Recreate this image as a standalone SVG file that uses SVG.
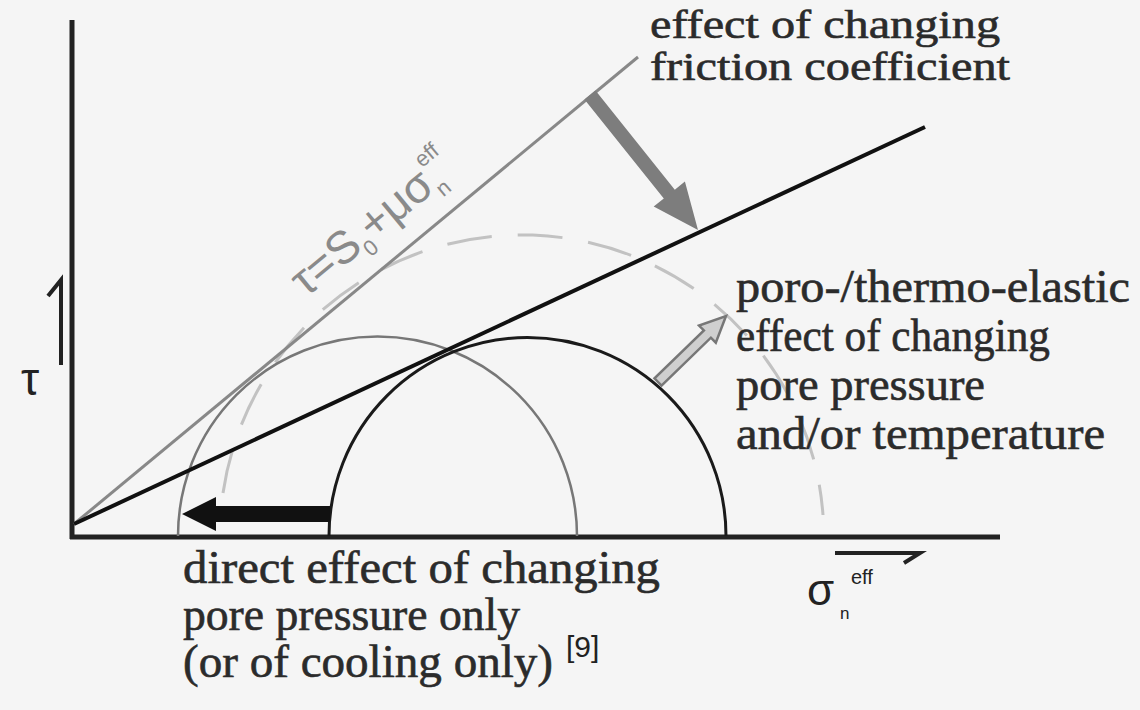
<svg xmlns="http://www.w3.org/2000/svg" width="1140" height="710" viewBox="0 0 1140 710">
<style>
.lbl{font-family:"Liberation Serif","Times New Roman",serif;font-size:46px;fill:#2b2b2b;stroke:#2b2b2b;stroke-width:0.6;}
.top{font-size:40px;}
.sans{font-family:"Liberation Sans",Arial,sans-serif;}
.axis{stroke:#222;stroke-width:5;fill:none;}
</style>
<rect x="0" y="0" width="1140" height="710" fill="#f5f5f5"/>
<g id="axes">
<line class="axis" x1="72" y1="20" x2="72" y2="539"/>
<line class="axis" x1="70" y1="537" x2="1000" y2="537"/>
<path d="M61 365 L61 280 L48 296" fill="none" stroke="#222" stroke-width="4"/>
<text class="sans" x="21" y="395" font-size="46" fill="#222">τ</text>
<path d="M835 553 L920 553 L904 563" fill="none" stroke="#222" stroke-width="4"/>
<text class="sans" x="807" y="605" font-size="44" fill="#222">σ</text>
<text class="sans" x="840" y="619" font-size="17" fill="#222">n</text>
<text class="sans" x="851" y="584" font-size="20" fill="#222">eff</text>
</g>
<g id="circles">
<path d="M223 493 A302 302 0 0 1 823 515" fill="none" stroke="#c2c2c2" stroke-width="3" stroke-dasharray="45 26"/>
<path d="M178 536 A199.5 199.5 0 0 1 577 536" fill="none" stroke="#777" stroke-width="2.5"/>
<path d="M329 536 A198.5 198.5 0 0 1 726 536" fill="none" stroke="#1a1a1a" stroke-width="3"/>
</g>
<g id="lines">
<line x1="74" y1="524" x2="638" y2="57" stroke="#888" stroke-width="3"/>
<line x1="74" y1="524" x2="925" y2="127" stroke="#111" stroke-width="4"/>
<text class="sans" transform="translate(306,298) rotate(-39.6)" font-size="46" fill="#8a8a8a">τ=S<tspan dy="10" font-size="22">0</tspan><tspan dy="-10">+μσ</tspan><tspan dy="10" font-size="22">n</tspan><tspan dy="-36" dx="-10" font-size="22">eff</tspan></text>
</g>
<g id="connectors">
<polygon points="595.5,90.6 674.8,189.7 684.9,181.6 698,230 653.7,206.6 663.8,198.5 584.5,99.4" fill="#7d7d7d"/>
<polygon points="330,506 216,506 216,497 182,514 216,531 216,522 330,522" fill="#111"/>
<polygon points="661.5,385.6 710.9,337.7 715.8,342.7 726,316 699,325.5 703.9,330.5 654.5,378.4" fill="#cfcfcf" stroke="#777" stroke-width="2.5" stroke-linejoin="miter"/>
</g>
<g id="label-friction">
<text class="lbl top" x="650" y="38" textLength="350" lengthAdjust="spacingAndGlyphs">effect of changing</text>
<text class="lbl top" x="650" y="80" textLength="360" lengthAdjust="spacingAndGlyphs">friction coefficient</text>
</g>
<g id="label-poro">
<text class="lbl" x="736" y="302" textLength="394" lengthAdjust="spacingAndGlyphs">poro-/thermo-elastic</text>
<text class="lbl" x="736" y="351" textLength="314" lengthAdjust="spacingAndGlyphs">effect of changing</text>
<text class="lbl" x="736" y="400" textLength="249" lengthAdjust="spacingAndGlyphs">pore pressure</text>
<text class="lbl" x="736" y="449" textLength="369" lengthAdjust="spacingAndGlyphs">and/or temperature</text>
</g>
<g id="label-direct">
<text class="lbl" x="183" y="583" textLength="477" lengthAdjust="spacingAndGlyphs">direct effect of changing</text>
<text class="lbl" x="183" y="630" textLength="337" lengthAdjust="spacingAndGlyphs">pore pressure only</text>
<text class="lbl" x="183" y="677" textLength="370" lengthAdjust="spacingAndGlyphs">(or of cooling only)</text>
<text class="sans" x="566" y="657" font-size="30" fill="#222">[9]</text>
</g>
</svg>
